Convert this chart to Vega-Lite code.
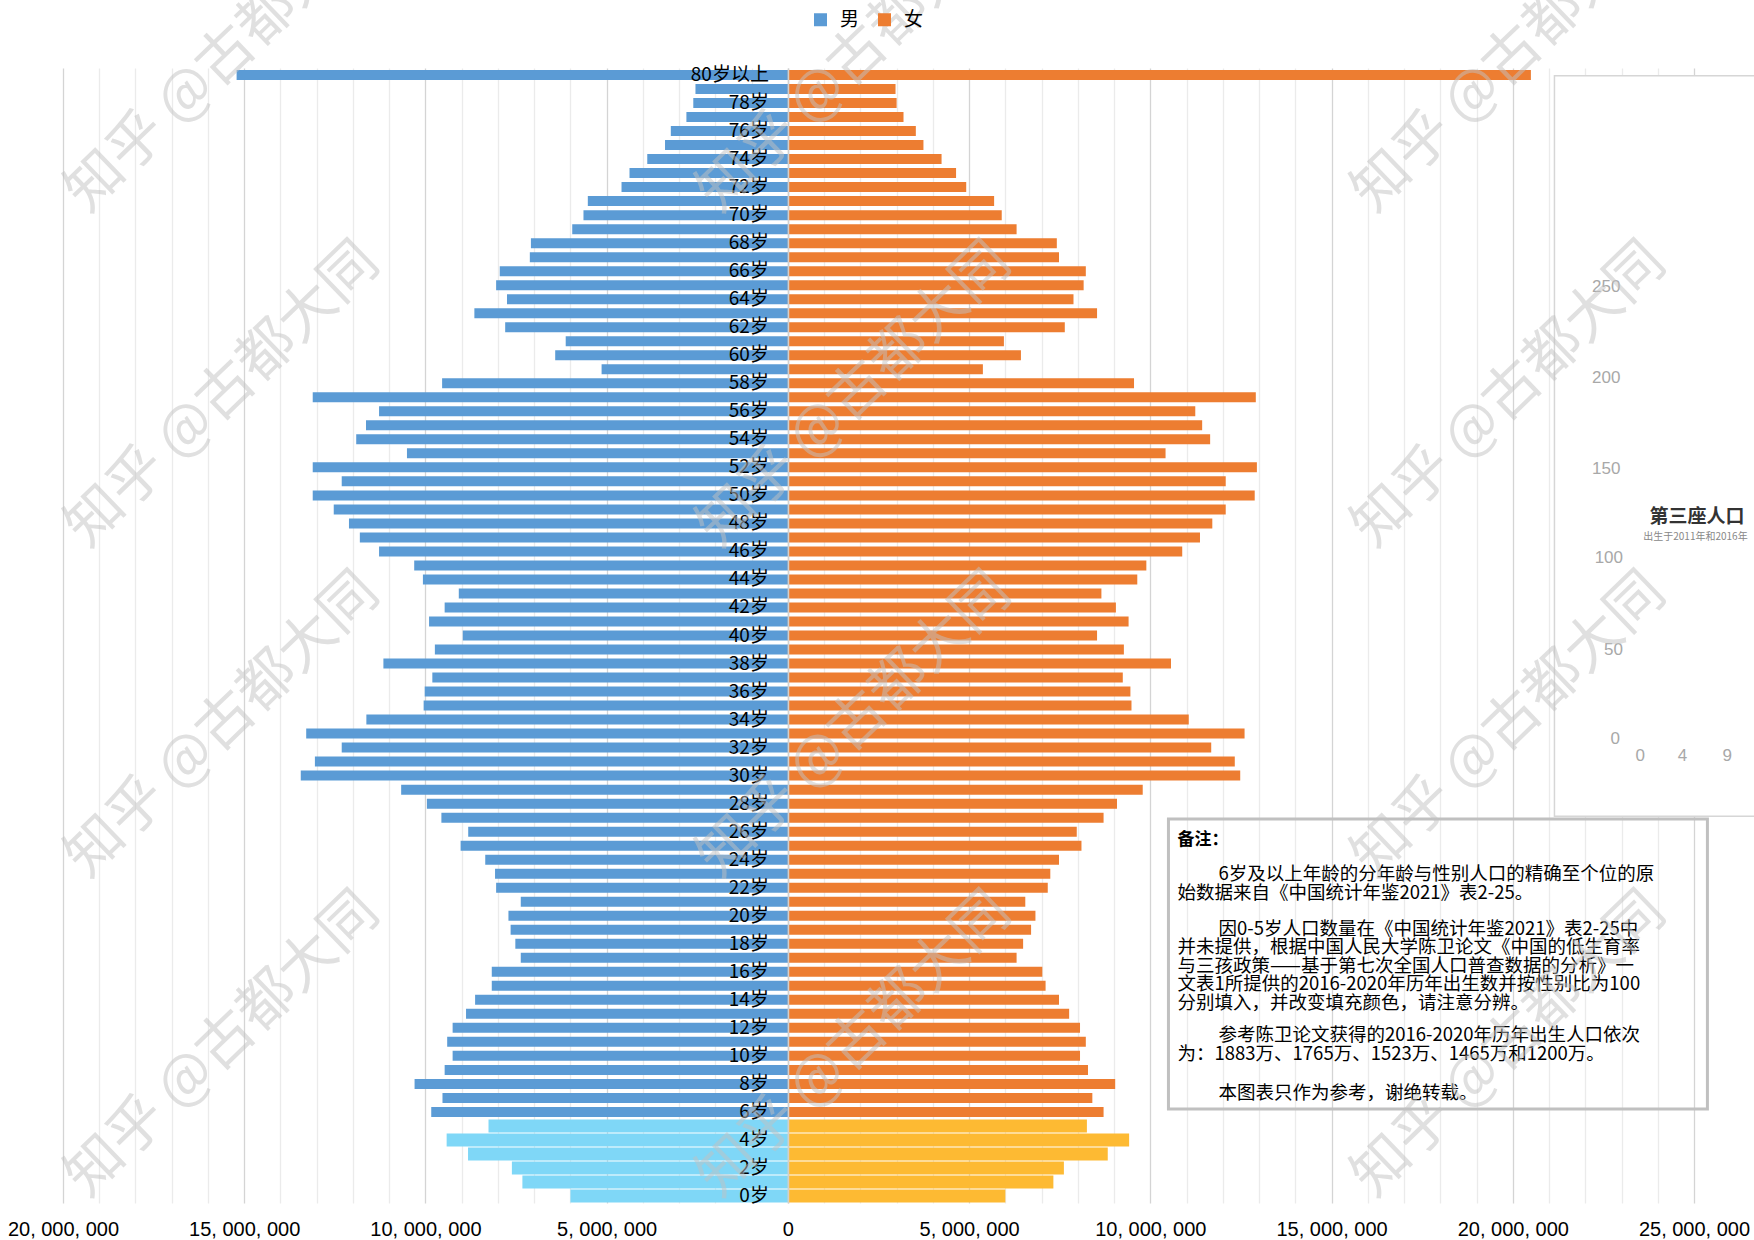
{
  "$schema": "https://vega.github.io/schema/vega-lite/v6.json",
  "width": 1631,
  "height": 1135,
  "autosize": {"type": "none"},
  "padding": {"left": 63, "top": 68, "right": 60, "bottom": 37},
  "background": "white",
  "config": {"view": {"stroke": null}, "font": "Liberation Sans", "axis": {"labelOverlap": false}},
  "resolve": {"axis": {"x": "independent"}},
  "datasets": {
    "pop": [
      {"age":80,"男":-15210000,"女":20500000},
      {"age":79,"男":-2550000,"女":2970000},
      {"age":78,"男":-2610000,"女":3000000},
      {"age":77,"男":-2800000,"女":3190000},
      {"age":76,"男":-3230000,"女":3530000},
      {"age":75,"男":-3390000,"女":3740000},
      {"age":74,"男":-3880000,"女":4240000},
      {"age":73,"男":-4370000,"女":4640000},
      {"age":72,"男":-4590000,"女":4920000},
      {"age":71,"男":-5520000,"女":5690000},
      {"age":70,"男":-5640000,"女":5900000},
      {"age":69,"男":-5950000,"女":6310000},
      {"age":68,"男":-7090000,"女":7420000},
      {"age":67,"男":-7120000,"女":7480000},
      {"age":66,"男":-7950000,"女":8220000},
      {"age":65,"男":-8050000,"女":8160000},
      {"age":64,"男":-7750000,"女":7880000},
      {"age":63,"男":-8650000,"女":8530000},
      {"age":62,"男":-7800000,"女":7640000},
      {"age":61,"男":-6130000,"女":5960000},
      {"age":60,"男":-6420000,"女":6430000},
      {"age":59,"男":-5140000,"女":5380000},
      {"age":58,"男":-9540000,"女":9550000},
      {"age":57,"男":-13110000,"女":12910000},
      {"age":56,"男":-11280000,"女":11240000},
      {"age":55,"男":-11640000,"女":11430000},
      {"age":54,"男":-11910000,"女":11650000},
      {"age":53,"男":-10510000,"女":10420000},
      {"age":52,"男":-13110000,"女":12940000},
      {"age":51,"男":-12310000,"女":12080000},
      {"age":50,"男":-13110000,"女":12880000},
      {"age":49,"男":-12530000,"女":12080000},
      {"age":48,"男":-12110000,"女":11710000},
      {"age":47,"男":-11810000,"女":11370000},
      {"age":46,"男":-11280000,"女":10880000},
      {"age":45,"男":-10310000,"女":9890000},
      {"age":44,"男":-10070000,"女":9640000},
      {"age":43,"男":-9080000,"女":8650000},
      {"age":42,"男":-9470000,"女":9050000},
      {"age":41,"男":-9900000,"女":9400000},
      {"age":40,"男":-8970000,"女":8530000},
      {"age":39,"男":-9740000,"女":9270000},
      {"age":38,"男":-11160000,"女":10570000},
      {"age":37,"男":-9810000,"女":9240000},
      {"age":36,"男":-10020000,"女":9450000},
      {"age":35,"男":-10050000,"女":9480000},
      {"age":34,"男":-11630000,"女":11060000},
      {"age":33,"男":-13290000,"女":12600000},
      {"age":32,"男":-12310000,"女":11680000},
      {"age":31,"男":-13050000,"女":12330000},
      {"age":30,"男":-13440000,"女":12480000},
      {"age":29,"男":-10670000,"女":9790000},
      {"age":28,"男":-9960000,"女":9080000},
      {"age":27,"男":-9560000,"女":8710000},
      {"age":26,"男":-8820000,"女":7970000},
      {"age":25,"男":-9030000,"女":8100000},
      {"age":24,"男":-8350000,"女":7480000},
      {"age":23,"男":-8080000,"女":7240000},
      {"age":22,"男":-8050000,"女":7170000},
      {"age":21,"男":-7370000,"女":6550000},
      {"age":20,"男":-7710000,"女":6830000},
      {"age":19,"男":-7650000,"女":6710000},
      {"age":18,"男":-7520000,"女":6490000},
      {"age":17,"男":-7370000,"女":6310000},
      {"age":16,"男":-8170000,"女":7020000},
      {"age":15,"男":-8170000,"女":7110000},
      {"age":14,"男":-8630000,"女":7480000},
      {"age":13,"男":-8880000,"女":7760000},
      {"age":12,"男":-9250000,"女":8060000},
      {"age":11,"男":-9400000,"女":8220000},
      {"age":10,"男":-9250000,"女":8060000},
      {"age":9,"男":-9470000,"女":8280000},
      {"age":8,"男":-10300000,"女":9030000},
      {"age":7,"男":-9530000,"女":8400000},
      {"age":6,"男":-9840000,"女":8710000},
      {"age":5,"男":-8260000,"女":8250000},
      {"age":4,"男":-9415000,"女":9415000},
      {"age":3,"男":-8825000,"女":8825000},
      {"age":2,"男":-7615000,"女":7615000},
      {"age":1,"男":-7325000,"女":7325000},
      {"age":0,"男":-6000000,"女":6000000}
    ]
  },
  "layer": [
    {
      "data": {"name": "pop"},
      "transform": [
        {"fold": ["男", "女"], "as": ["series", "pop"]},
        {"filter": "datum.age >= 6"}
      ],
      "mark": {"type": "bar", "orient": "horizontal", "size": 10},
      "encoding": {
        "y": {
          "field": "age", "type": "quantitative",
          "scale": {"domain": [-0.5, 80.5], "nice": false, "zero": false, "padding": 0},
          "axis": {
            "orient": "left", "offset": -725,
            "labels": false, "ticks": false, "domain": true, "domainColor": "#d0d0d0", "domainWidth": 1.5,
            "grid": false, "title": null, "zindex": 1
          }
        },
        "x": {
          "field": "pop", "type": "quantitative",
          "scale": {"domain": [-20000000, 25000000], "nice": false, "padding": 0},
          "axis": {
            "orient": "bottom",
            "values": [-20000000,-15000000,-10000000,-5000000,0,5000000,10000000,15000000,20000000,25000000],
            "labelExpr": "join(split(format(abs(datum.value), ','), ','), ', ')",
            "grid": true, "gridColor": "#d4d4d4", "gridWidth": 1.3,
            "ticks": false, "domain": false, "title": null,
            "labelFont": "Liberation Sans", "labelFontSize": 20, "labelColor": "#000000",
            "labelPadding": 16, "labelOverlap": false, "labelFlush": false, "labelBound": false,
            "zindex": 0
          }
        },
        "color": {
          "field": "series", "type": "nominal",
          "scale": {"domain": ["男", "女"], "range": ["#5B9BD5", "#ED7D31"]},
          "legend": {
            "orient": "none", "legendX": 748, "legendY": -58, "direction": "horizontal",
            "title": null, "padding": 0, "symbolType": "square", "symbolSize": 169,
            "symbolStrokeWidth": 0, "labelFont": "Noto Sans CJK SC", "labelFontSize": 19,
            "labelColor": "#000000", "labelOffset": 10, "columnPadding": 15
          }
        }
      }
    },
    {
      "data": {"name": "pop"},
      "transform": [
        {"fold": ["男", "女"], "as": ["series", "pop"]},
        {"filter": "datum.age <= 5"}
      ],
      "mark": {"type": "bar", "orient": "horizontal", "size": 13},
      "encoding": {
        "y": {"field": "age", "type": "quantitative"},
        "x": {
          "field": "pop", "type": "quantitative",
          "axis": {
            "orient": "top",
            "values": [-19000000,-18000000,-17000000,-16000000,-14000000,-13000000,-12000000,-11000000,-9000000,-8000000,-7000000,-6000000,-4000000,-3000000,-2000000,-1000000,1000000,2000000,3000000,4000000,6000000,7000000,8000000,9000000,11000000,12000000,13000000,14000000,16000000,17000000,18000000,19000000,21000000,22000000,23000000,24000000],
            "labels": false, "ticks": false, "domain": false, "title": null,
            "grid": true, "gridColor": "#ebebeb", "gridWidth": 1.3, "zindex": 0
          }
        },
        "color": {"condition": {"test": "datum.series == '男'", "value": "#7FD7F7"}, "value": "#FDBA33"}
      }
    },
    {
      "data": {"name": "pop"},
      "transform": [
        {"filter": "datum.age % 2 == 0"},
        {"calculate": "datum.age == 80 ? '80岁以上' : datum.age + '岁'", "as": "label"}
      ],
      "mark": {"type": "text", "align": "right", "baseline": "middle", "dx": -19, "font": "Noto Sans CJK SC", "fontSize": 19, "color": "#000000"},
      "encoding": {
        "y": {"field": "age", "type": "quantitative"},
        "x": {"datum": 0, "type": "quantitative", "axis": null},
        "text": {"field": "label", "type": "nominal"}
      }
    },
    {
      "data": {"values": [{}]},
      "mark": {"type": "rect", "fill": "#ffffff", "stroke": "#d6d6d6", "strokeWidth": 1.5},
      "encoding": {
        "x": {"datum": 21150000, "type": "quantitative", "axis": null},
        "x2": {"datum": 27000000},
        "y": {"datum": 79.95, "type": "quantitative"},
        "y2": {"datum": 27.1}
      }
    },
    {"data": {"values": [{}]}, "mark": {"type": "text", "text": "250", "font": "Liberation Sans", "fontSize": 17, "color": "#a8a8a8"},
     "encoding": {"x": {"datum": 22580000, "type": "quantitative", "axis": null}, "y": {"datum": 64.9, "type": "quantitative"}}},
    {"data": {"values": [{}]}, "mark": {"type": "text", "text": "200", "font": "Liberation Sans", "fontSize": 17, "color": "#a8a8a8"},
     "encoding": {"x": {"datum": 22580000, "type": "quantitative", "axis": null}, "y": {"datum": 58.4, "type": "quantitative"}}},
    {"data": {"values": [{}]}, "mark": {"type": "text", "text": "150", "font": "Liberation Sans", "fontSize": 17, "color": "#a8a8a8"},
     "encoding": {"x": {"datum": 22580000, "type": "quantitative", "axis": null}, "y": {"datum": 51.9, "type": "quantitative"}}},
    {"data": {"values": [{}]}, "mark": {"type": "text", "text": "100", "font": "Liberation Sans", "fontSize": 17, "color": "#a8a8a8"},
     "encoding": {"x": {"datum": 22650000, "type": "quantitative", "axis": null}, "y": {"datum": 45.5, "type": "quantitative"}}},
    {"data": {"values": [{}]}, "mark": {"type": "text", "text": "50", "font": "Liberation Sans", "fontSize": 17, "color": "#a8a8a8"},
     "encoding": {"x": {"datum": 22780000, "type": "quantitative", "axis": null}, "y": {"datum": 39.0, "type": "quantitative"}}},
    {"data": {"values": [{}]}, "mark": {"type": "text", "text": "0", "font": "Liberation Sans", "fontSize": 17, "color": "#a8a8a8"},
     "encoding": {"x": {"datum": 22830000, "type": "quantitative", "axis": null}, "y": {"datum": 32.6, "type": "quantitative"}}},
    {"data": {"values": [{}]}, "mark": {"type": "text", "text": "0", "font": "Liberation Sans", "fontSize": 17, "color": "#a8a8a8"},
     "encoding": {"x": {"datum": 23520000, "type": "quantitative", "axis": null}, "y": {"datum": 31.4, "type": "quantitative"}}},
    {"data": {"values": [{}]}, "mark": {"type": "text", "text": "4", "font": "Liberation Sans", "fontSize": 17, "color": "#a8a8a8"},
     "encoding": {"x": {"datum": 24680000, "type": "quantitative", "axis": null}, "y": {"datum": 31.4, "type": "quantitative"}}},
    {"data": {"values": [{}]}, "mark": {"type": "text", "text": "9", "font": "Liberation Sans", "fontSize": 17, "color": "#a8a8a8"},
     "encoding": {"x": {"datum": 25920000, "type": "quantitative", "axis": null}, "y": {"datum": 31.4, "type": "quantitative"}}},
    {"data": {"values": [{}]}, "mark": {"type": "text", "text": "第三座人口", "align": "left", "font": "Noto Sans CJK SC", "fontWeight": "bold", "fontSize": 19, "color": "#333333"},
     "encoding": {"x": {"datum": 23770000, "type": "quantitative", "axis": null}, "y": {"datum": 48.46, "type": "quantitative"}}},
    {"data": {"values": [{}]}, "mark": {"type": "text", "text": "出生于2011年和2016年", "align": "left", "font": "Noto Sans CJK SC", "fontSize": 10, "color": "#888888"},
     "encoding": {"x": {"datum": 23600000, "type": "quantitative", "axis": null}, "y": {"datum": 47.03, "type": "quantitative"}}},
    {
      "data": {"values": [{}]},
      "mark": {"type": "rect", "fill": null, "fillOpacity": 0, "stroke": "#c0c0c0", "strokeWidth": 3},
      "encoding": {
        "x": {"datum": 10500000, "type": "quantitative", "axis": null},
        "x2": {"datum": 25370000},
        "y": {"datum": 26.9, "type": "quantitative"},
        "y2": {"datum": 6.2}
      }
    },
    {
      "data": {"values": [{}]},
      "mark": {"type": "text", "text": "备注：", "align": "left", "baseline": "top", "font": "Noto Sans CJK SC", "fontWeight": "bold", "fontSize": 17, "color": "#000000"},
      "encoding": {"x": {"datum": 10750000, "type": "quantitative", "axis": null}, "y": {"datum": 26.0, "type": "quantitative"}}
    },
    {
      "data": {"values": [{}]},
      "mark": {"type": "text", "text": "6岁及以上年龄的分年龄与性别人口的精确至个位的原", "align": "left", "baseline": "top", "font": "Noto Sans CJK SC", "fontSize": 18.5, "color": "#000000"},
      "encoding": {"x": {"datum": 11880000, "type": "quantitative", "axis": null}, "y": {"datum": 23.59, "type": "quantitative"}}
    },
    {
      "data": {"values": [{}]},
      "mark": {"type": "text", "text": "始数据来自《中国统计年鉴2021》表2-25。", "align": "left", "baseline": "top", "font": "Noto Sans CJK SC", "fontSize": 18.5, "color": "#000000"},
      "encoding": {"x": {"datum": 10750000, "type": "quantitative", "axis": null}, "y": {"datum": 22.3, "type": "quantitative"}}
    },
    {
      "data": {"values": [{}]},
      "mark": {"type": "text", "text": "因0-5岁人口数量在《中国统计年鉴2021》表2-25中", "align": "left", "baseline": "top", "font": "Noto Sans CJK SC", "fontSize": 18.5, "color": "#000000"},
      "encoding": {"x": {"datum": 11880000, "type": "quantitative", "axis": null}, "y": {"datum": 19.73, "type": "quantitative"}}
    },
    {
      "data": {"values": [{}]},
      "mark": {
        "type": "text",
        "text": [
          "并未提供，根据中国人民大学陈卫论文《中国的低生育率",
          "与三孩政策——基于第七次全国人口普查数据的分析》一",
          "文表1所提供的2016-2020年历年出生数并按性别比为100",
          "分别填入，并改变填充颜色，请注意分辨。"
        ],
        "align": "left", "baseline": "top", "font": "Noto Sans CJK SC", "fontSize": 18.5, "lineHeight": 18.6, "color": "#000000"
      },
      "encoding": {"x": {"datum": 10750000, "type": "quantitative", "axis": null}, "y": {"datum": 18.4, "type": "quantitative"}}
    },
    {
      "data": {"values": [{}]},
      "mark": {"type": "text", "text": "参考陈卫论文获得的2016-2020年历年出生人口依次", "align": "left", "baseline": "top", "font": "Noto Sans CJK SC", "fontSize": 18.5, "color": "#000000"},
      "encoding": {"x": {"datum": 11880000, "type": "quantitative", "axis": null}, "y": {"datum": 12.1, "type": "quantitative"}}
    },
    {
      "data": {"values": [{}]},
      "mark": {"type": "text", "text": "为：1883万、1765万、1523万、1465万和1200万。", "align": "left", "baseline": "top", "font": "Noto Sans CJK SC", "fontSize": 18.5, "color": "#000000"},
      "encoding": {"x": {"datum": 10750000, "type": "quantitative", "axis": null}, "y": {"datum": 10.75, "type": "quantitative"}}
    },
    {
      "data": {"values": [{}]},
      "mark": {"type": "text", "text": "本图表只作为参考，谢绝转载。", "align": "left", "baseline": "top", "font": "Noto Sans CJK SC", "fontSize": 18.5, "color": "#000000"},
      "encoding": {"x": {"datum": 11880000, "type": "quantitative", "axis": null}, "y": {"datum": 7.97, "type": "quantitative"}}
    },
    {"data": {"values": [{}]}, "mark": {"type": "text", "text": "知乎 @古都大同", "angle": -44, "font": "Noto Sans CJK SC", "fontSize": 57, "color": "#c2c2c2", "opacity": 0.5},
     "encoding": {"x": {"datum": -15590000, "type": "quantitative", "axis": null}, "y": {"datum": 81.09, "type": "quantitative"}}},
    {"data": {"values": [{}]}, "mark": {"type": "text", "text": "知乎 @古都大同", "angle": -44, "font": "Noto Sans CJK SC", "fontSize": 57, "color": "#c2c2c2", "opacity": 0.5},
     "encoding": {"x": {"datum": -15590000, "type": "quantitative", "axis": null}, "y": {"datum": 57.17, "type": "quantitative"}}},
    {"data": {"values": [{}]}, "mark": {"type": "text", "text": "知乎 @古都大同", "angle": -44, "font": "Noto Sans CJK SC", "fontSize": 57, "color": "#c2c2c2", "opacity": 0.5},
     "encoding": {"x": {"datum": -15590000, "type": "quantitative", "axis": null}, "y": {"datum": 33.6, "type": "quantitative"}}},
    {"data": {"values": [{}]}, "mark": {"type": "text", "text": "知乎 @古都大同", "angle": -44, "font": "Noto Sans CJK SC", "fontSize": 57, "color": "#c2c2c2", "opacity": 0.5},
     "encoding": {"x": {"datum": -15590000, "type": "quantitative", "axis": null}, "y": {"datum": 10.8, "type": "quantitative"}}},
    {"data": {"values": [{}]}, "mark": {"type": "text", "text": "知乎 @古都大同", "angle": -44, "font": "Noto Sans CJK SC", "fontSize": 57, "color": "#c2c2c2", "opacity": 0.5},
     "encoding": {"x": {"datum": 1840000, "type": "quantitative", "axis": null}, "y": {"datum": 81.09, "type": "quantitative"}}},
    {"data": {"values": [{}]}, "mark": {"type": "text", "text": "知乎 @古都大同", "angle": -44, "font": "Noto Sans CJK SC", "fontSize": 57, "color": "#c2c2c2", "opacity": 0.5},
     "encoding": {"x": {"datum": 1840000, "type": "quantitative", "axis": null}, "y": {"datum": 57.17, "type": "quantitative"}}},
    {"data": {"values": [{}]}, "mark": {"type": "text", "text": "知乎 @古都大同", "angle": -44, "font": "Noto Sans CJK SC", "fontSize": 57, "color": "#c2c2c2", "opacity": 0.5},
     "encoding": {"x": {"datum": 1840000, "type": "quantitative", "axis": null}, "y": {"datum": 33.6, "type": "quantitative"}}},
    {"data": {"values": [{}]}, "mark": {"type": "text", "text": "知乎 @古都大同", "angle": -44, "font": "Noto Sans CJK SC", "fontSize": 57, "color": "#c2c2c2", "opacity": 0.5},
     "encoding": {"x": {"datum": 1840000, "type": "quantitative", "axis": null}, "y": {"datum": 10.8, "type": "quantitative"}}},
    {"data": {"values": [{}]}, "mark": {"type": "text", "text": "知乎 @古都大同", "angle": -44, "font": "Noto Sans CJK SC", "fontSize": 57, "color": "#c2c2c2", "opacity": 0.5},
     "encoding": {"x": {"datum": 19910000, "type": "quantitative", "axis": null}, "y": {"datum": 81.09, "type": "quantitative"}}},
    {"data": {"values": [{}]}, "mark": {"type": "text", "text": "知乎 @古都大同", "angle": -44, "font": "Noto Sans CJK SC", "fontSize": 57, "color": "#c2c2c2", "opacity": 0.5},
     "encoding": {"x": {"datum": 19910000, "type": "quantitative", "axis": null}, "y": {"datum": 57.17, "type": "quantitative"}}},
    {"data": {"values": [{}]}, "mark": {"type": "text", "text": "知乎 @古都大同", "angle": -44, "font": "Noto Sans CJK SC", "fontSize": 57, "color": "#c2c2c2", "opacity": 0.5},
     "encoding": {"x": {"datum": 19910000, "type": "quantitative", "axis": null}, "y": {"datum": 33.6, "type": "quantitative"}}},
    {"data": {"values": [{}]}, "mark": {"type": "text", "text": "知乎 @古都大同", "angle": -44, "font": "Noto Sans CJK SC", "fontSize": 57, "color": "#c2c2c2", "opacity": 0.5},
     "encoding": {"x": {"datum": 19910000, "type": "quantitative", "axis": null}, "y": {"datum": 10.8, "type": "quantitative"}}}
  ]
}
